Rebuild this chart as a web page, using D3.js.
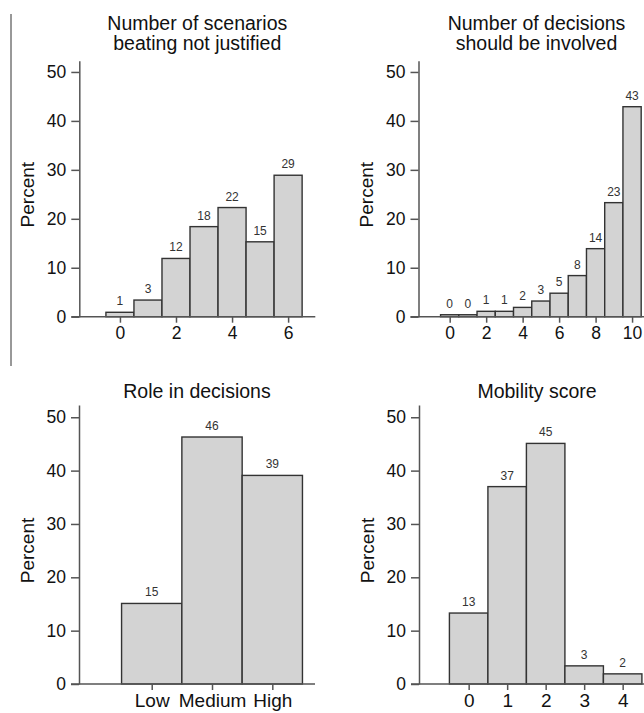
<!DOCTYPE html>
<html>
<head>
<meta charset="utf-8">
<script src="https://cdnjs.cloudflare.com/ajax/libs/d3/7.8.5/d3.min.js"></script>
<style>
  body { margin: 0; background: #fff; }
  svg { display: block; font-family: "Liberation Sans", Arial, sans-serif; }
</style>
</head>
<body>
<div id="chart"></div>
<script>
// Data (percent of respondents)
const scenarioBins = [0, 1, 2, 3, 4, 5, 6];
const scenarioPct = [0.9, 3.4, 11.9, 18.4, 22.3, 15.3, 28.9];
const scenarioTicks = [0, 2, 4, 6];

const decisionBins = [0, 1, 2, 3, 4, 5, 6, 7, 8, 9, 10];
const decisionPct = [0.4, 0.4, 1.1, 1.1, 1.9, 3.2, 4.8, 8.4, 13.9, 23.3, 42.9];
const decisionTicks = [0, 2, 4, 6, 8, 10];

const roleCats = ["Low", "Medium", "High"];
const rolePct = [15.1, 46.3, 39.1];

const mobilityBins = [0, 1, 2, 3, 4];
const mobilityPct = [13.3, 37.0, 45.1, 3.4, 1.9];
const mobilityTicks = [0, 1, 2, 3, 4];

const yTicks = [0, 10, 20, 30, 40, 50];
const yMax = 52.3;

const W = 644, H = 713;

const svg = d3.select("#chart").append("svg")
    .attr("width", W)
    .attr("height", H);

// thin frame line at the left edge of the figure
svg.append("line")
    .attr("x1", 11).attr("x2", 11)
    .attr("y1", 14).attr("y2", 366)
    .attr("stroke", "#333").attr("stroke-width", 1);

// one histogram panel
function panel(opt) {
    const g = svg.append("g");

    const y = d3.scaleLinear().domain([0, yMax]).range([opt.base, opt.top]);
    const x = d3.scaleLinear().domain(opt.xDomain).range([opt.left, opt.left + 236]);

    // title
    const title = g.append("text")
        .attr("text-anchor", "middle")
        .style("font-size", "19.5px")
        .style("fill", "#111");
    opt.title.forEach((t, i) => {
        title.append("tspan")
            .attr("x", opt.left + 118)
            .attr("y", opt.titleY + i * 20)
            .text(t);
    });

    // y label
    g.append("text")
        .attr("transform", `translate(${opt.left - 52},${(opt.base + opt.top) / 2 + 6}) rotate(-90)`)
        .attr("text-anchor", "middle")
        .attr("dy", "0.35em")
        .style("font-size", "19px")
        .style("fill", "#111")
        .text("Percent");

    // bars
    g.selectAll("rect")
        .data(opt.values)
        .enter()
        .append("rect")
        .attr("x", (d, i) => x(i - 0.5))
        .attr("width", (d, i) => x(i + 0.5) - x(i - 0.5))
        .attr("y", d => y(d))
        .attr("height", d => opt.base - y(d))
        .style("fill", "#d3d3d3")
        .style("stroke", "#333")
        .style("stroke-width", 1.4);

    // value labels
    g.selectAll("text.val")
        .data(opt.values)
        .enter()
        .append("text")
        .attr("class", "val")
        .attr("x", (d, i) => x(i))
        .attr("y", d => y(d) - 7)
        .attr("text-anchor", "middle")
        .style("font-size", "12px")
        .style("fill", "#333")
        .text(d => Math.round(d));

    // y axis
    const ya = g.append("g")
        .attr("transform", `translate(${opt.left},0)`)
        .call(d3.axisLeft(y).tickValues(yTicks).tickSize(8).tickSizeOuter(0).tickPadding(5));
    ya.select(".domain").attr("stroke", "#555").attr("stroke-width", 1.5);
    ya.selectAll(".tick line").attr("stroke", "#555").attr("stroke-width", 1.5);
    ya.selectAll(".tick text")
        .style("font-size", "17.5px")
        .style("fill", "#111")
        .style("font-family", "'Liberation Sans', Arial, sans-serif");

    // x axis
    const xa = g.append("g")
        .attr("transform", `translate(0,${opt.base})`)
        .call(d3.axisBottom(x).tickValues(opt.ticks).tickSize(6).tickSizeOuter(0).tickPadding(4)
            .tickFormat(opt.tickFormat || (d => d)));
    xa.select(".domain").remove();
    xa.append("line")
        .attr("x1", opt.left - 8).attr("x2", opt.left + 236)
        .attr("stroke", "#555").attr("stroke-width", 1.5);
    xa.selectAll(".tick line").attr("stroke", "#555").attr("stroke-width", 1.5);
    xa.selectAll(".tick text")
        .style("font-size", opt.tickSize)
        .style("fill", "#111")
        .style("font-family", "'Liberation Sans', Arial, sans-serif");
}

panel({
    title: ["Number of scenarios", "beating not justified"],
    titleY: 30,
    values: scenarioPct,
    ticks: scenarioTicks,
    xDomain: [-1.45, 6.97],
    left: 79.3, base: 316.7, top: 60.7,
    tickSize: "17.5px"
});

panel({
    title: ["Number of decisions", "should be involved"],
    titleY: 30,
    values: decisionPct,
    ticks: decisionTicks,
    xDomain: [-1.71, 11.23],
    left: 418.5, base: 316.7, top: 60.7,
    tickSize: "17.5px"
});

panel({
    title: ["Role in decisions"],
    titleY: 397.5,
    values: rolePct,
    ticks: [0, 1, 2],
    tickFormat: i => roleCats[i],
    xDomain: [-1.206, 2.708],
    left: 79, base: 684, top: 405,
    tickSize: "19px"
});

panel({
    title: ["Mobility score"],
    titleY: 397.5,
    values: mobilityPct,
    ticks: mobilityTicks,
    xDomain: [-1.29, 4.84],
    left: 419, base: 684, top: 405,
    tickSize: "19px"
});
</script>
</body>
</html>
